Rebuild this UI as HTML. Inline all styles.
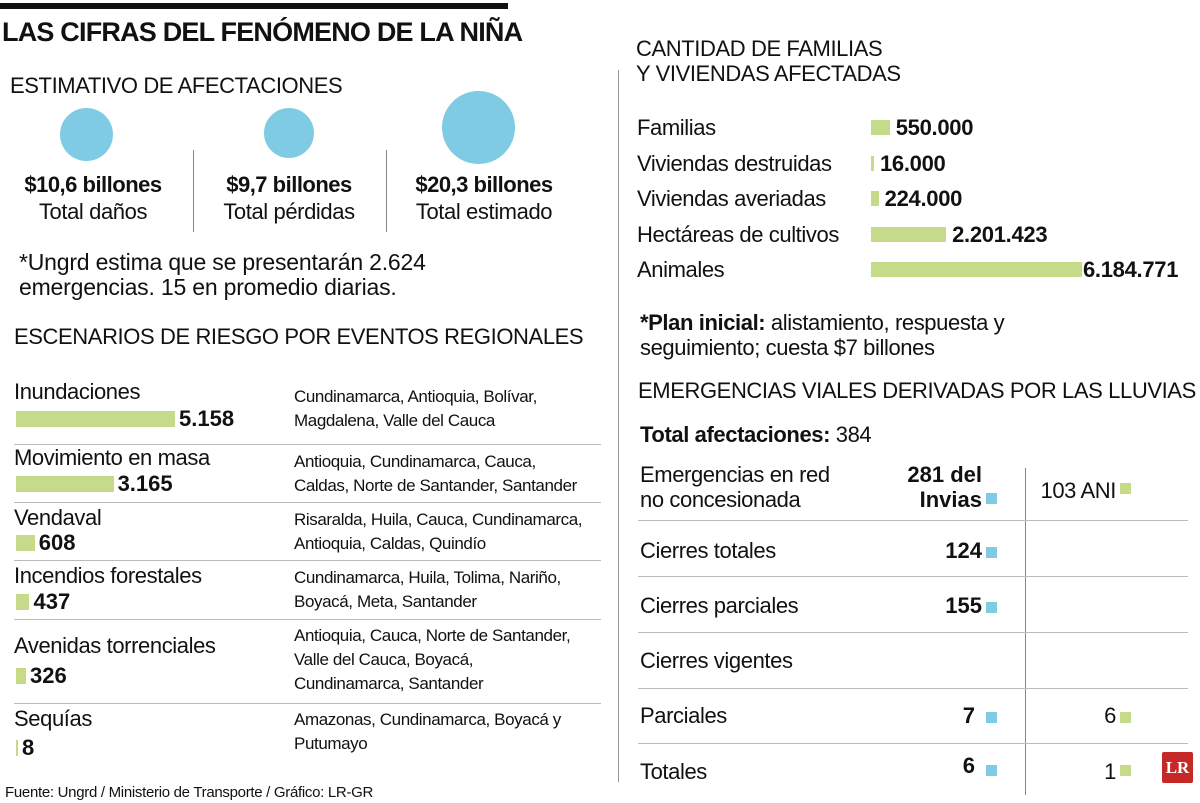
<!DOCTYPE html>
<html><head><meta charset="utf-8">
<style>
body{margin:0;width:1200px;height:803px;background:#fff;position:relative;overflow:hidden;font-family:"Liberation Sans",sans-serif;color:#111}
.a{position:absolute;white-space:nowrap}
.t{font-size:22px;letter-spacing:-0.4px}
.b{font-weight:bold}
.hl{position:absolute;height:1px;background:#bbb}
.vl{position:absolute;width:1px;background:#888}
.bar{position:absolute;background:#c5db8a}
.sq{position:absolute;width:11px;height:11px}
</style></head><body>
<div class="a" style="left:0;top:3px;width:508px;height:6px;background:#111"></div>
<div class="a b" style="left:2px;top:17px;font-size:27px;letter-spacing:-0.8px">LAS CIFRAS DEL FENÓMENO DE LA NIÑA</div>
<div class="a t" style="left:10px;top:73px;font-size:22px">ESTIMATIVO DE AFECTACIONES</div>

<div class="a" style="left:60px;top:108px;width:53px;height:53px;border-radius:50%;background:#7ecbe3"></div>
<div class="a" style="left:264px;top:108px;width:50px;height:50px;border-radius:50%;background:#7ecbe3"></div>
<div class="a" style="left:442px;top:91px;width:73px;height:73px;border-radius:50%;background:#7ecbe3"></div>
<div class="vl" style="left:193px;top:150px;height:82px"></div>
<div class="vl" style="left:386px;top:150px;height:82px"></div>
<div class="a b" style="left:6px;top:172px;width:174px;text-align:center;font-size:22px;letter-spacing:-0.5px">$10,6 billones</div>
<div class="a t" style="left:6px;top:199px;width:174px;text-align:center">Total daños</div>
<div class="a b" style="left:203px;top:172px;width:172px;text-align:center;font-size:22px;letter-spacing:-0.5px">$9,7 billones</div>
<div class="a t" style="left:203px;top:199px;width:172px;text-align:center">Total pérdidas</div>
<div class="a b" style="left:396px;top:172px;width:176px;text-align:center;font-size:22px;letter-spacing:-0.5px">$20,3 billones</div>
<div class="a t" style="left:396px;top:199px;width:176px;text-align:center">Total estimado</div>
<div class="a t" style="left:19px;top:250px;line-height:25px;font-size:23px;letter-spacing:-0.2px">*Ungrd estima que se presentarán 2.624<br>emergencias. 15 en promedio diarias.</div>

<div class="a t" style="left:14px;top:324px">ESCENARIOS DE RIESGO POR EVENTOS REGIONALES</div>
<div id="left"></div>

<div class="vl" style="left:618px;top:70px;height:712px;background:#999"></div>

<div class="a t" style="left:636px;top:36px;line-height:25px">CANTIDAD DE FAMILIAS<br>Y VIVIENDAS AFECTADAS</div>
<div id="right"></div>
<div class="a t" style="left:640px;top:310px;line-height:25px"><b>*Plan inicial:</b> alistamiento, respuesta y<br>seguimiento; cuesta $7 billones</div>

<div class="a t" style="left:638px;top:378px">EMERGENCIAS VIALES DERIVADAS POR LAS LLUVIAS</div>
<div class="a t" style="left:640px;top:422px"><b>Total afectaciones:</b> 384</div>
<div class="vl" style="left:1025px;top:468px;height:327px"></div>
<div id="vial"></div>

<div class="a" style="left:1162px;top:752px;width:31px;height:31px;background:#c62828;color:#fff;font-family:'Liberation Serif',serif;font-weight:bold;font-size:17px;text-align:center;line-height:31px;border-radius:2px">LR</div>
<div class="a" style="left:5px;top:784px;font-size:15px;letter-spacing:-0.3px">Fuente: Ungrd / Ministerio de Transporte / Gráfico: LR-GR</div>

<script>
// Left: risk scenarios
const riskCats=["Inundaciones","Movimiento en masa","Vendaval","Incendios forestales","Avenidas torrenciales","Sequías"];
const riskVals=[5158,3165,608,437,326,8];
const riskLabels=["5.158","3.165","608","437","326","8"];
const riskRegions=["Cundinamarca, Antioquia, Bolívar,<br>Magdalena, Valle del Cauca","Antioquia, Cundinamarca, Cauca,<br>Caldas, Norte de Santander, Santander","Risaralda, Huila, Cauca, Cundinamarca,<br>Antioquia, Caldas, Quindío","Cundinamarca, Huila, Tolima, Nariño,<br>Boyacá, Meta, Santander","Antioquia, Cauca, Norte de Santander,<br>Valle del Cauca, Boyacá,<br>Cundinamarca, Santander","Amazonas, Cundinamarca, Boyacá y<br>Putumayo"];
// Right: familias
const famCats=["Familias","Viviendas destruidas","Viviendas averiadas","Hectáreas de cultivos","Animales"];
const famVals=[550000,16000,224000,2201423,6184771];
const famLabels=["550.000","16.000","224.000","2.201.423","6.184.771"];
// Vial table
const vialCats=["Emergencias en red<br>no concesionada","Cierres totales","Cierres parciales","Cierres vigentes","Parciales","Totales"];
const vialInvias=["281 del<br>Invias","124","155","","7","6"];
const vialAni=["103 ANI","","","","6","1"];

function mk(parent,cls,name,style,html){
  const e=document.createElement('div');
  e.className=cls;
  
  
  e.setAttribute('style',style);
  if(html!==undefined)e.innerHTML=html;
  parent.appendChild(e);return e;
}
const L=document.getElementById('left');
const xL=v=>v*159/5158;
const rowTop=[379,445,505,563,633,706];
const regTop=[385,450,508,566,624,708];
const barTop=[411,476,535,594,668,740];
const lineY=[444,502,560,619,703];
riskCats.forEach((c,i)=>{
  mk(L,'a t','risk-label-'+i,`left:14px;top:${rowTop[i]}px`,c);
  const w=Math.max(2,xL(riskVals[i]));
  mk(L,'bar','risk-bar-'+i,`left:16px;top:${barTop[i]}px;width:${w}px;height:16px`);
  mk(L,'a b','risk-value-'+i,`left:${16+w+4}px;top:${barTop[i]-5}px;font-size:22px`,riskLabels[i]);
  mk(L,'a','risk-regions-'+i,`left:294px;top:${regTop[i]}px;font-size:17px;line-height:24px;letter-spacing:-0.4px`,riskRegions[i]);
});
lineY.forEach((y,i)=>mk(L,'hl','risk-row-line-'+i,`left:14px;top:${y}px;width:587px`));

const R=document.getElementById('right');
const xR=v=>v*211/6184771;
famCats.forEach((c,i)=>{
  const y=115+i*35.5;
  mk(R,'a t','fam-label-'+i,`left:637px;top:${y}px`,c);
  const w=Math.max(3,xR(famVals[i]));
  mk(R,'bar','fam-bar-'+i,`left:871px;top:${y+5}px;width:${w}px;height:15px`);
  mk(R,'a b','fam-value-'+i,`left:${871+w+(i==4?1:6)}px;top:${y}px;font-size:22px;letter-spacing:-0.3px`,famLabels[i]);
});

const V=document.getElementById('vial');
const vTop=[462,538,593,648,703,759];
vialCats.forEach((c,i)=>{
  mk(V,'a t','vial-label-'+i,`left:640px;top:${vTop[i]}px;line-height:25px`,c);
  if(vialInvias[i]){
    mk(V,'a b','vial-invias-'+i,`right:${1200-(i==4||i==5?975:982)}px;top:${i==5?vTop[i]-6:vTop[i]}px;font-size:22px;text-align:right;line-height:25px`,vialInvias[i]);
    mk(V,'sq','vial-invias-marker-'+i,`left:986px;top:${i==0?493:vTop[i]+(i==5?6:9)}px;background:#7ecbe3`);
  }
  if(vialAni[i]){
    mk(V,'a t','vial-ani-'+i,`right:${1200-1116}px;top:${i==0?478:vTop[i]}px`,vialAni[i]);
    mk(V,'sq','vial-ani-marker-'+i,`left:1120px;top:${i==0?483:vTop[i]+(i==5?6:9)}px;background:#c5db8a`);
  }
});
[520,576,632,688,743].forEach((y,i)=>mk(V,'hl','vial-row-line-'+i,`left:638px;top:${y}px;width:550px`));
</script>
</body></html>
